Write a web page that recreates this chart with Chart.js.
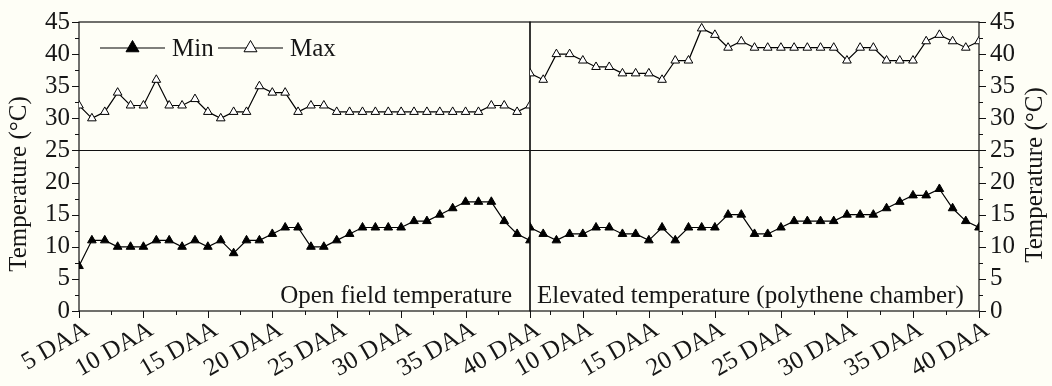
<!DOCTYPE html>
<html>
<head>
<meta charset="utf-8">
<script src="https://cdn.jsdelivr.net/npm/chart.js@4.4.1/dist/chart.umd.min.js"></script>
<style>
  html, body { margin: 0; padding: 0; background: #fefef6; }
  #wrap { position: relative; width: 1052px; height: 386px; overflow: hidden; }
  canvas { position: absolute; top: 0; }
  #openChart { left: 0; }
  #elevChart { left: 500px; }
</style>
</head>
<body>
<div id="wrap">
  <canvas id="openChart" width="560" height="386"></canvas>
  <canvas id="elevChart" width="552" height="386"></canvas>
</div>
<script>
// days after anthesis
var daysOpen = [5, 6, 7, 8, 9, 10, 11, 12, 13, 14, 15, 16, 17, 18, 19, 20, 21, 22,
  23, 24, 25, 26, 27, 28, 29, 30, 31, 32, 33, 34, 35, 36, 37, 38, 39, 40];
var daysElevated = [6, 7, 8, 9, 10, 11, 12, 13, 14, 15, 16, 17, 18, 19, 20, 21, 22,
  23, 24, 25, 26, 27, 28, 29, 30, 31, 32, 33, 34, 35, 36, 37, 38, 39, 40];

var minOpen = [7, 11, 11, 10, 10, 10, 11, 11, 10, 11, 10, 11, 9, 11, 11, 12, 13, 13,
  10, 10, 11, 12, 13, 13, 13, 13, 14, 14, 15, 16, 17, 17, 17, 14, 12, 11];
var maxOpen = [32, 30, 31, 34, 32, 32, 36, 32, 32, 33, 31, 30, 31, 31, 35, 34, 34, 31,
  32, 32, 31, 31, 31, 31, 31, 31, 31, 31, 31, 31, 31, 31, 32, 32, 31, 32];
var minElevated = [13, 12, 11, 12, 12, 13, 13, 12, 12, 11, 13, 11, 13, 13, 13, 15, 15,
  12, 12, 13, 14, 14, 14, 14, 15, 15, 15, 16, 17, 18, 18, 19, 16, 14, 13];
var maxElevated = [37, 36, 40, 40, 39, 38, 38, 37, 37, 37, 36, 39, 39, 44, 43, 41, 42,
  41, 41, 41, 41, 41, 41, 41, 39, 41, 41, 39, 39, 39, 42, 43, 42, 41, 42];

var xLabelsOpen = [5, 10, 15, 20, 25, 30, 35, 40];
var xLabelsElevated = [10, 15, 20, 25, 30, 35, 40];
var yLabels = [0, 5, 10, 15, 20, 25, 30, 35, 40, 45];

var seriesNames = ['Min', 'Max'];
var yTitle = 'Temperature (\u00B0C)';
var panelNames = ['Open field temperature', 'Elevated temperature (polythene chamber)'];

var INK = '#161616';
var SERIF = "'Liberation Serif', 'Times New Roman', Times, serif";
var FONT_PX = 25;

function pairs(xs, ys) {
  return xs.map(function (x, i) { return { x: x, y: ys[i] }; });
}

function series(label, xs, ys, fill) {
  return {
    label: label,
    data: pairs(xs, ys),
    borderColor: '#000',
    borderWidth: 1.2,
    pointStyle: 'triangle',
    pointRadius: 5,
    pointBorderWidth: 1,
    pointBorderColor: '#000',
    pointBackgroundColor: fill,
    tension: 0
  };
}

// frame, line at 25, tick marks, captions, titles, legend
function decorPlugin(opts) {
  return {
    id: 'decor',
    beforeDatasetsDraw: function (chart) {
      var ctx = chart.ctx, a = chart.chartArea;
      var xs = chart.scales.x, ys = chart.scales.y;
      ctx.save();
      ctx.strokeStyle = '#111';
      ctx.lineWidth = 1.2;
      ctx.strokeRect(a.left, a.top, a.right - a.left, a.bottom - a.top);
      var y25 = Math.round(ys.getPixelForValue(25)) + 0.5;
      ctx.beginPath();
      ctx.moveTo(a.left, y25);
      ctx.lineTo(a.right, y25);
      ctx.stroke();

      ctx.lineWidth = 1;
      ctx.beginPath();
      for (var v = 5; v <= 40; v += 2.5) {
        if (v < xs.min) continue;
        var px = Math.round(xs.getPixelForValue(v)) + 0.5;
        var len = v % 5 === 0 ? 7 : 4;
        ctx.moveTo(px, a.bottom);
        ctx.lineTo(px, a.bottom + len);
      }
      var ax = opts.side === 'left' ? a.left : a.right;
      var dir = opts.side === 'left' ? -1 : 1;
      for (var t = 0; t <= 45; t += 2.5) {
        var py = Math.round(ys.getPixelForValue(t)) + 0.5;
        var l2 = t % 5 === 0 ? 7 : 4;
        ctx.moveTo(ax, py);
        ctx.lineTo(ax + dir * l2, py);
      }
      ctx.stroke();
      ctx.restore();
    },
    afterDatasetsDraw: function (chart) {
      var ctx = chart.ctx, a = chart.chartArea;
      ctx.save();
      ctx.fillStyle = INK;
      ctx.font = FONT_PX + 'px ' + SERIF;
      ctx.textBaseline = 'alphabetic';
      if (opts.side === 'left') {
        ctx.textAlign = 'right';
        ctx.fillText(opts.caption, a.right - 18, a.bottom - 8);
      } else {
        ctx.textAlign = 'left';
        ctx.fillText(opts.caption, a.left + 7, a.bottom - 8);
      }

      // axis title
      ctx.save();
      ctx.translate(opts.titleX, opts.titleY);
      ctx.rotate(-Math.PI / 2);
      ctx.textAlign = 'center';
      ctx.textBaseline = 'middle';
      ctx.fillText(yTitle, 0, 0);
      ctx.restore();

      if (opts.legend) {
        var ly = 48;
        var items = [{ x0: 100, x1: 165, tx: 172 }, { x0: 218, x1: 283, tx: 290 }];
        chart.data.datasets.forEach(function (ds, i) {
          var it = items[i];
          ctx.strokeStyle = ds.borderColor;
          ctx.lineWidth = 1.2;
          ctx.beginPath();
          ctx.moveTo(it.x0, ly);
          ctx.lineTo(it.x1, ly);
          ctx.stroke();
          var cx = (it.x0 + it.x1) / 2, r = 7.5;
          ctx.beginPath();
          ctx.moveTo(cx, ly - r);
          ctx.lineTo(cx + r * 0.866, ly + r * 0.5);
          ctx.lineTo(cx - r * 0.866, ly + r * 0.5);
          ctx.closePath();
          ctx.fillStyle = ds.pointBackgroundColor;
          ctx.fill();
          ctx.lineWidth = 1;
          ctx.strokeStyle = ds.pointBorderColor;
          ctx.stroke();
          ctx.fillStyle = INK;
          ctx.textAlign = 'left';
          ctx.textBaseline = 'middle';
          ctx.fillText(ds.label, it.tx, ly + 1);
        });
      }
      ctx.restore();
    }
  };
}

function buildChart(id, cfg) {
  var tickFont = { family: SERIF, size: FONT_PX };
  return new Chart(document.getElementById(id), {
    type: 'line',
    data: {
      datasets: [
        series(seriesNames[0], cfg.days, cfg.min, '#000'),
        series(seriesNames[1], cfg.days, cfg.max, '#fff')
      ]
    },
    options: {
      responsive: false,
      animation: false,
      devicePixelRatio: 1,
      layout: { padding: cfg.padding },
      plugins: { legend: { display: false }, tooltip: { enabled: false } },
      scales: {
        x: {
          type: 'linear',
          min: cfg.days[0],
          max: 40,
          afterBuildTicks: function (s) {
            s.ticks = cfg.xLabels.map(function (v) { return { value: v }; });
          },
          afterFit: function (s) {
            s.height = 75;
            s.paddingLeft = 0;
            s.paddingRight = 0;
          },
          grid: { display: false, drawTicks: false },
          border: { display: false },
          ticks: {
            autoSkip: false,
            minRotation: 30,
            maxRotation: 30,
            padding: 4,
            labelOffset: 8,
            color: INK,
            font: tickFont,
            callback: function (v) { return v + ' DAA'; }
          }
        },
        y: {
          position: cfg.side,
          min: 0,
          max: 45,
          afterBuildTicks: function (s) {
            s.ticks = yLabels.map(function (v) { return { value: v }; });
          },
          afterFit: function (s) {
            s.width = cfg.axisWidth;
            s.paddingTop = 0;
            s.paddingBottom = 0;
          },
          grid: { display: false, drawTicks: false },
          border: { display: false },
          ticks: {
            autoSkip: false,
            padding: cfg.side === 'left' ? 9 : 11,
            color: INK,
            font: tickFont
          }
        }
      }
    },
    plugins: [decorPlugin({
      side: cfg.side,
      caption: cfg.caption,
      legend: cfg.legend,
      titleX: cfg.titleX,
      titleY: cfg.titleY
    })]
  });
}

buildChart('openChart', {
  days: daysOpen, min: minOpen, max: maxOpen, xLabels: xLabelsOpen,
  side: 'left', axisWidth: 79, padding: { left: 0, right: 30, top: 22, bottom: 0 },
  caption: panelNames[0], legend: true, titleX: 19, titleY: 184
});
buildChart('elevChart', {
  days: daysElevated, min: minElevated, max: maxElevated, xLabels: xLabelsElevated,
  side: 'right', axisWidth: 73, padding: { left: 30, right: 0, top: 22, bottom: 0 },
  caption: panelNames[1], legend: false, titleX: 535, titleY: 175
});
</script>
</body>
</html>
